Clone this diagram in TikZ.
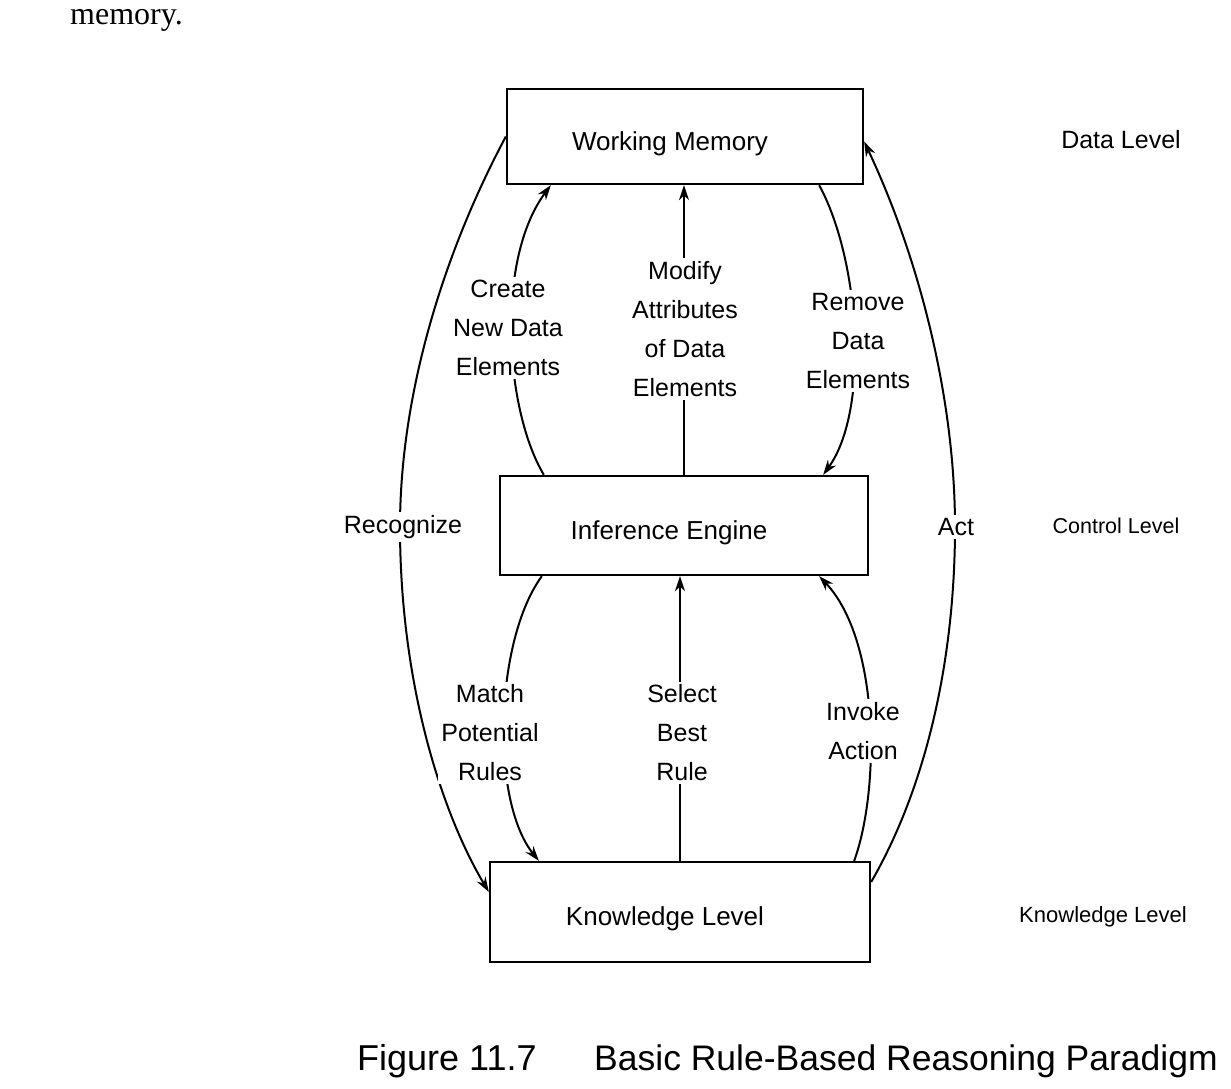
\documentclass[tikz,border=0pt]{standalone}
\usepackage{fontspec}
\setmainfont{Liberation Sans}
\newfontfamily\serifface{Liberation Serif}
\usetikzlibrary{arrows.meta,calc}
\begin{document}
\begin{tikzpicture}[x=1pt,y=-1pt,
  box/.style={draw,line width=2.3pt,inner sep=0pt,text height=27pt,text depth=0pt,font=\fontsize{26}{30}\selectfont},
  lbl/.style={fill=white,inner sep=3pt,align=center,font=\fontsize{25}{39}\selectfont},
  lvl/.style={inner sep=0pt},
  conn/.style={line width=2pt},
  arr/.style={conn,-{Stealth[length=15pt,width=10pt]}}]
\useasboundingbox (0,0) rectangle (1231,1088);
\fill[white] (0,0) rectangle (1231,1088);

% printed text fragment at the top
\node[anchor=base west,inner sep=0pt,font=\serifface\fontsize{32}{38}\selectfont] (mem) at (70,24) {memory.};

% boxes
\node[box,minimum width=356pt,minimum height=95pt] (wm) at (685,136.5) {Working Memory\hspace*{30pt}};
\node[box,minimum width=368pt,minimum height=99pt] (ie) at (684,525.5) {Inference Engine\hspace*{30pt}};
\node[box,minimum width=380pt,minimum height=100pt] (kl) at (680,912) {Knowledge Level\hspace*{30pt}};

% inner connectors (upper)
\draw[arr] ([xshift=45pt]ie.north west) .. controls (505,410) and (495,260) .. ([xshift=45pt]wm.south west);
\draw[arr] (ie.north) -- (ie.north |- wm.south);
\draw[arr] ([xshift=-45pt]wm.south east) .. controls (860,260) and (870,410) .. ([xshift=-46pt]ie.north east);
% inner connectors (lower)
\draw[arr] ([xshift=43pt]ie.south west) .. controls (495,640) and (490,800) .. ([xshift=50pt]kl.north west);
\draw[arr] (kl.north) -- (kl.north |- ie.south);
\draw[arr] ([xshift=-17pt]kl.north east) .. controls (880,790) and (880,640) .. ([xshift=-50pt]ie.south east);
% outer arcs
\draw[arr] (wm.west) .. controls (440,260) and (400,400) .. (400,527) .. controls (400,680) and (440,810) .. ([yshift=20pt]kl.west);
\draw[arr] ([yshift=30pt]kl.east) .. controls (930,780) and (955,650) .. (955,527) .. controls (955,400) and (920,260) .. ([yshift=-5pt]wm.east);

% connector labels
\node[lbl] (l1) at (508,328) {Create\\New Data\\Elements};
\node[lbl] (l2) at (685,329) {Modify\\Attributes\\of Data\\Elements};
\node[lbl] (l3) at (858,341) {Remove\\Data\\Elements};
\node[lbl] (l4) at (403,527) {Recognize};
\node[lbl] (l5) at (956,527) {Act};
\node[lbl] (l6) at (490,733) {Match\\Potential\\Rules};
\node[lbl] (l7) at (682,733) {Select\\Best\\Rule};
\node[lbl] (l8) at (863,731) {Invoke\\Action};

% level labels
\node[lvl,font=\fontsize{25}{30}\selectfont] (dl) at (1121,140) {Data Level};
\node[lvl,font=\fontsize{21.5}{26}\selectfont] (cl) at (1116,526) {Control Level};
\node[lvl,font=\fontsize{22}{26}\selectfont] (kll) at (1103,917) {Knowledge Level};

% caption
\node[anchor=base west,inner sep=0pt,font=\fontsize{36}{44}\selectfont] (cap1) at (357,1070) {Figure 11.7};
\node[anchor=base west,inner sep=0pt,font=\fontsize{35.5}{44}\selectfont] (cap2) at (594,1070) {Basic Rule-Based Reasoning Paradigm};
\end{tikzpicture}
\end{document}
